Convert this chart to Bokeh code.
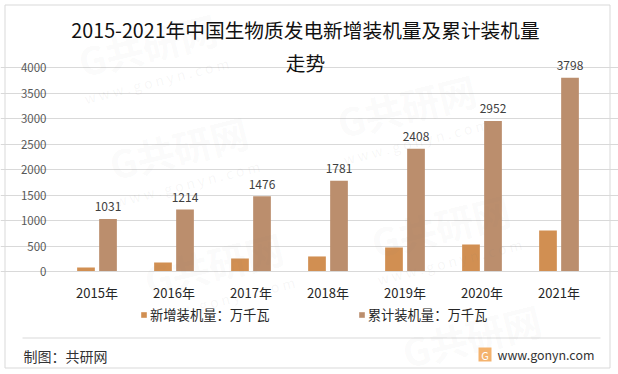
from bokeh.plotting import figure
from bokeh.models import (ColumnDataSource, Range1d, FixedTicker, Label,
                          BoxAnnotation, Legend, LegendItem)
from bokeh.core.properties import value
from bokeh.embed import file_html
from bokeh.resources import INLINE

FONT = "Noto Sans CJK SC"
years = ["2015年", "2016年", "2017年", "2018年", "2019年", "2020年", "2021年"]
new_capacity = [78, 176, 255, 295, 470, 530, 804]
total_capacity = [1031, 1214, 1476, 1781, 2408, 2952, 3798]
y_ticks = [0, 500, 1000, 1500, 2000, 2500, 3000, 3500, 4000]
name_new = "新增装机量：万千瓦"
name_total = "累计装机量：万千瓦"
title_1 = "2015-2021年中国生物质发电新增装机量及累计装机量"
title_2 = "走势"
credit = "制图：共研网"
site = "www.gonyn.com"
watermark = "G共研网"
watermark_site = "w w w . g o n y n . c o m"

W, H = 618, 374
LEFT, RIGHT, ZERO_Y, TOP4K = 58, 597, 271, 67
xs = [i + 0.5 for i in range(len(years))]
x_new = [x - 0.143 for x in xs]
x_tot = [x + 0.143 for x in xs]
px_x = (RIGHT - LEFT) / len(years)
px_y = (ZERO_Y - TOP4K) / 4000

src = ColumnDataSource(dict(x=xs, x_new=x_new, x_tot=x_tot, new=new_capacity, total=total_capacity,
                            label=[str(v) for v in total_capacity]))

p = figure(x_range=Range1d(-LEFT / px_x, (W - LEFT) / px_x),
           y_range=Range1d(-(H - ZERO_Y) / px_y, ZERO_Y / px_y),
           width=W, height=H, min_border=0,
           output_backend="svg", toolbar_location=None, background_fill_color="white",
           border_fill_color="white", outline_line_color=None)

def canvas_label(x, y, text, size, color, align="left", angle=0, alpha=1.0, style="normal"):
    p.add_layout(Label(x=x, y=y, x_units="canvas", y_units="canvas", text=text,
                       text_font=FONT, text_font_size=f"{size}px", text_color=color, text_alpha=alpha,
                       text_font_style=style, text_align=align, text_baseline="middle", angle=angle,
                       angle_units="deg", level="overlay"))

def dx(px):
    return (px - LEFT) / px_x

def dy(py):
    return (ZERO_Y - py) / px_y

# outer frame and footer rule
p.line([dx(v) for v in (4.5, 609.5, 609.5, 4.5, 4.5)], [dy(v) for v in (4.5, 4.5, 367.5, 367.5, 4.5)],
       line_color="#D9D9D9", line_width=1)
p.line([dx(22), dx(600)], [dy(337.5), dy(337.5)], line_color="#D9D9D9", line_width=1)

bn = p.vbar(x="x_new", top="new", width=0.23, source=src, color="#D18F52", line_color=None)
bt = p.vbar(x="x_tot", top="total", width=0.23, source=src, color="#BB8E6D", line_color=None)
p.text(x="x_tot", y="total", text="label", source=src, y_offset=-12,
       text_align="center", text_baseline="alphabetic",
       text_font=value(FONT), text_font_size="12px", text_color="#404040")

for wx, wy in [(147, 44), (178, 147), (406, 105), (213, 263), (440, 225)]:
    canvas_label(wx, wy, watermark, 38, "#808080", "center", 14, 0.05, "bold")
    canvas_label(wx + 9, wy + 36, watermark_site, 14, "#808080", "center", 14, 0.07)
canvas_label(471, 335, watermark, 38, "#808080", "center", 14, 0.05, "bold")

p.xaxis.fixed_location = 0
p.yaxis.fixed_location = 0
p.xaxis.bounds = (0, len(years))
p.xaxis.ticker = FixedTicker(ticks=xs)
p.xaxis.major_label_overrides = dict(zip(xs, years))
p.yaxis.ticker = FixedTicker(ticks=y_ticks)
p.xgrid.grid_line_color = None
p.ygrid.grid_line_color = "#D9D9D9"
p.ygrid.grid_line_width = 1
p.ygrid.bounds = (0, len(years))
p.ygrid.level = "underlay"
p.yaxis.axis_line_color = None
p.yaxis.major_tick_line_color = None
p.yaxis.minor_tick_line_color = None
p.yaxis.major_label_text_font = FONT
p.yaxis.major_label_text_font_size = "11.5px"
p.yaxis.major_label_text_color = "#595959"
p.yaxis.major_label_standoff = 6
p.xaxis.axis_line_color = "#D9D9D9"
p.xaxis.major_tick_line_color = None
p.xaxis.minor_tick_line_color = None
p.xaxis.major_label_text_font = FONT
p.xaxis.major_label_text_font_size = "13px"
p.xaxis.major_label_text_color = "#262626"
p.xaxis.major_label_standoff = 5

legend = Legend(items=[LegendItem(label=name_new, renderers=[bn]),
                       LegendItem(label=name_total, renderers=[bt])],
                orientation="horizontal", location=(140, 374 - 324), spacing=88,
                background_fill_alpha=0, border_line_color=None, glyph_width=7, glyph_height=7,
                label_text_font=FONT, label_text_font_size="13.3px", label_text_color="#262626",
                margin=0, padding=0, label_standoff=3, level="overlay")
p.add_layout(legend, "center")

canvas_label(305, 29, title_1, 19.7, "#111111", "center")
canvas_label(305, 62, title_2, 19.7, "#111111", "center")
canvas_label(23, 355, credit, 14, "#333333")
canvas_label(497, 354, site, 12.4, "#333333")

p.add_layout(BoxAnnotation(left=478, right=491, top=347, bottom=361, fill_color="#F4B36E", line_color=None,
                           left_units="canvas", right_units="canvas", top_units="canvas",
                           bottom_units="canvas", fill_alpha=1, level="overlay"))
canvas_label(484.5, 354, "G", 11, "white", "center")

open("out.html", "w").write(file_html(p, INLINE))
